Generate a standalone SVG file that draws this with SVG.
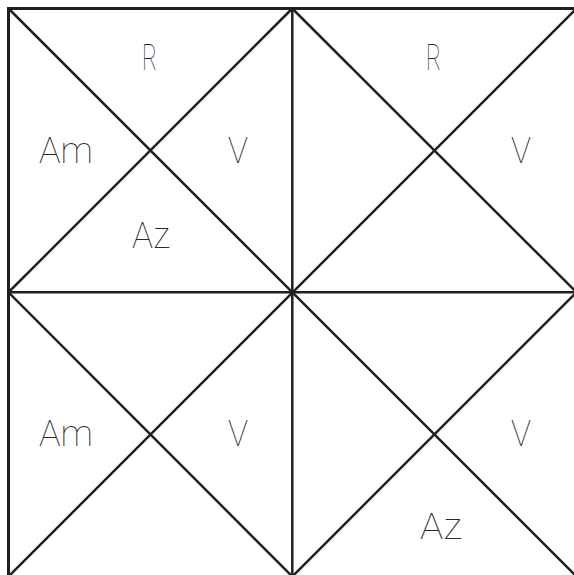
<svg xmlns="http://www.w3.org/2000/svg" width="574" height="575" viewBox="0 0 574 575">
<style>
.ln{stroke:#231f20;stroke-width:2.5;fill:none;stroke-linecap:butt}
.fr{stroke:#231f20;stroke-width:3;fill:none}
.t{font-family:Roboto,"Liberation Sans",sans-serif;font-weight:100;font-size:37px;fill:#2a2a2a}
</style>
<rect width="574" height="575" fill="#ffffff"/>
<g id="lines">
<rect class="fr" x="8.5" y="8.5" width="568" height="568"/>
<line class="ln" x1="292.3" y1="8.5" x2="292.3" y2="576.5"/>
<line class="ln" x1="8.5" y1="292.3" x2="576.5" y2="292.3"/>
<line class="ln" x1="8.5" y1="8.5" x2="576.5" y2="576.5"/>
<line class="ln" x1="576.5" y1="8.5" x2="8.5" y2="576.5"/>
<polygon class="ln" points="292.3,8.5 8.5,292.3 292.3,576.5 576.5,292.3"/>
</g>
<g id="labels">
<text class="t" x="142" y="70" textLength="15" lengthAdjust="spacingAndGlyphs">R</text>
<text class="t" x="39" y="163" textLength="54" lengthAdjust="spacingAndGlyphs">Am</text>
<text class="t" x="228" y="163" textLength="20" lengthAdjust="spacingAndGlyphs">V</text>
<text class="t" x="132" y="248" textLength="38" lengthAdjust="spacingAndGlyphs">Az</text>
<text class="t" x="426" y="70" textLength="15" lengthAdjust="spacingAndGlyphs">R</text>
<text class="t" x="511" y="163" textLength="20" lengthAdjust="spacingAndGlyphs">V</text>
<text class="t" x="39" y="446" textLength="54" lengthAdjust="spacingAndGlyphs">Am</text>
<text class="t" x="228" y="446" textLength="20" lengthAdjust="spacingAndGlyphs">V</text>
<text class="t" x="511" y="446" textLength="20" lengthAdjust="spacingAndGlyphs">V</text>
<text class="t" x="420" y="539" textLength="42" lengthAdjust="spacingAndGlyphs">Az</text>
</g>
</svg>
